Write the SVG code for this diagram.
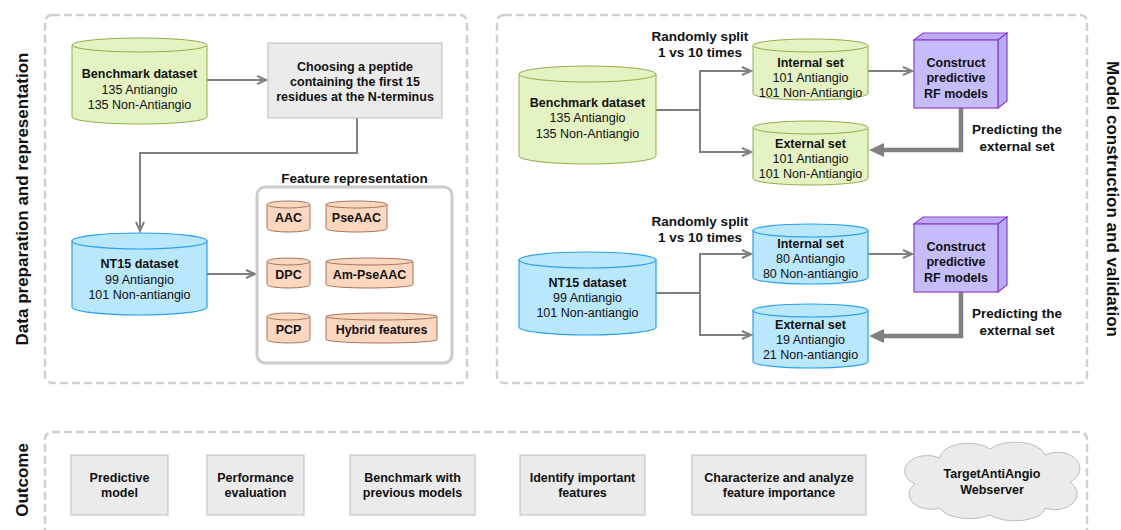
<svg xmlns="http://www.w3.org/2000/svg" width="1121" height="530" viewBox="0 0 1121 530">
<style>
text{font-family:"Liberation Sans",Arial,sans-serif;font-size:12.5px;fill:#111;text-anchor:middle}
.b{font-weight:bold}
.lbl{font-weight:bold;font-size:13.5px}
.sec{font-weight:bold;font-size:17px}
.dash{fill:none;stroke:#d0d0d0;stroke-width:2.5;stroke-dasharray:8 4}
.grn{fill:#e4f3c2;stroke:#92ad4a;stroke-width:1}
.blu{fill:#b9e7fb;stroke:#2c9ff0;stroke-width:1.2}
.pch{fill:#fcd7c0;stroke:#a8735a;stroke-width:1}
.gbox{fill:#ebebeb;stroke:#bdbdbd;stroke-width:1}
.cube{fill:#c5bcfb;stroke:#8e3fd0;stroke-width:1.2}
.cubed{fill:#b8acf5;stroke:#8e3fd0;stroke-width:1.2}
.con{fill:none;stroke:#808080;stroke-width:2}
.thick{fill:none;stroke:#808080;stroke-width:4.5}
</style>
<defs>
<marker id="arr" markerUnits="userSpaceOnUse" markerWidth="12" markerHeight="12" refX="10" refY="5" orient="auto">
<path d="M1,1 L10,5 L1,9" fill="none" stroke="#808080" stroke-width="2"/>
</marker>
<marker id="tarr" markerUnits="userSpaceOnUse" markerWidth="16" markerHeight="16" refX="0" refY="7" orient="auto">
<path d="M0,0 L15,7 L0,14 Z" fill="#808080"/>
</marker>
</defs>

<!-- section frames -->
<rect class="dash" x="45" y="15" width="422" height="368" rx="7"/>
<rect class="dash" x="497" y="15" width="590" height="368" rx="7"/>
<rect class="dash" x="45" y="432" width="1042" height="110" rx="7"/>
<text class="sec" transform="translate(28,199) rotate(-90)">Data preparation and representation</text>
<text class="sec" transform="translate(1107,199) rotate(90)">Model construction and validation</text>
<text class="sec" transform="translate(28,480) rotate(-90)">Outcome</text>

<!-- connectors -->
<g id="connectors">
<path class="con" d="M207,80 H266" marker-end="url(#arr)"/>
<path class="con" d="M357,118 V153 H140 V231" marker-end="url(#arr)"/>
<path class="con" d="M207,274 H255" marker-end="url(#arr)"/>
<path class="con" d="M656,110 H700 V71 H751" marker-end="url(#arr)"/>
<path class="con" d="M700,110 V152 H751" marker-end="url(#arr)"/>
<path class="con" d="M868,71 H912" marker-end="url(#arr)"/>
<path class="thick" d="M961,108 V150 H884" marker-end="url(#tarr)"/>
<path class="con" d="M656,293 H700 V254 H751" marker-end="url(#arr)"/>
<path class="con" d="M700,293 V335 H751" marker-end="url(#arr)"/>
<path class="con" d="M868,254 H912" marker-end="url(#arr)"/>
<path class="thick" d="M961,292 V336 H884" marker-end="url(#tarr)"/>
</g>

<!-- left panel -->
<g id="benchmark-left">
<path class="grn" d="M72,45 V117 A67.5,7 0 0 0 207,117 V45 Z"/>
<ellipse class="grn" cx="139.5" cy="45" rx="67.5" ry="7"/>
<text class="b" x="139.5" y="77.5">Benchmark dataset</text>
<text x="139.5" y="93.5">135 Antiangio</text>
<text x="139.5" y="108.5">135 Non-Antiangio</text>
</g>
<g id="choosing">
<rect class="gbox" x="268" y="43" width="174" height="75"/>
<text class="b" x="355" y="70.5">Choosing a peptide</text>
<text class="b" x="355" y="85.5">containing the first 15</text>
<text class="b" x="355" y="100.5">residues at the N-terminus</text>
</g>
<g id="nt15-left">
<path class="blu" d="M72,241 V307 A67.5,8 0 0 0 207,307 V241 Z"/>
<ellipse class="blu" cx="139.5" cy="241" rx="67.5" ry="8"/>
<text class="b" x="139.5" y="267.5">NT15 dataset</text>
<text x="139.5" y="283.5">99 Antiangio</text>
<text x="139.5" y="298.5">101 Non-antiangio</text>
</g>
<g id="feature-representation">
<text class="lbl" x="354.5" y="182.8">Feature representation</text>
<rect x="257" y="187" width="195" height="176" rx="8" fill="#fff" stroke="#cccccc" stroke-width="3"/>
</g>
<g id="aac">
<path class="pch" d="M267,204.5 V228.5 A21.5,3.5 0 0 0 310,228.5 V204.5 Z"/>
<ellipse class="pch" cx="288.5" cy="204.5" rx="21.5" ry="3.5"/>
<text class="b" x="288.5" y="221.5">AAC</text>
</g>
<g id="pseaac">
<path class="pch" d="M326,204.5 V228.5 A30.5,3.5 0 0 0 387,228.5 V204.5 Z"/>
<ellipse class="pch" cx="356.5" cy="204.5" rx="30.5" ry="3.5"/>
<text class="b" x="356.5" y="221.5">PseAAC</text>
</g>
<g id="dpc">
<path class="pch" d="M267,261.5 V284.5 A21.5,3.5 0 0 0 310,284.5 V261.5 Z"/>
<ellipse class="pch" cx="288.5" cy="261.5" rx="21.5" ry="3.5"/>
<text class="b" x="288.5" y="279">DPC</text>
</g>
<g id="am-pseaac">
<path class="pch" d="M326,261.5 V284.5 A43.5,3.5 0 0 0 413,284.5 V261.5 Z"/>
<ellipse class="pch" cx="369.5" cy="261.5" rx="43.5" ry="3.5"/>
<text class="b" x="369.5" y="279">Am-PseAAC</text>
</g>
<g id="pcp">
<path class="pch" d="M267,316.5 V339.5 A21.5,3.5 0 0 0 310,339.5 V316.5 Z"/>
<ellipse class="pch" cx="288.5" cy="316.5" rx="21.5" ry="3.5"/>
<text class="b" x="288.5" y="333.5">PCP</text>
</g>
<g id="hybrid">
<path class="pch" d="M326,316.5 V339.5 A55.5,3.5 0 0 0 437,339.5 V316.5 Z"/>
<ellipse class="pch" cx="381.5" cy="316.5" rx="55.5" ry="3.5"/>
<text class="b" x="381.5" y="333.5">Hybrid features</text>
</g>

<!-- right panel, upper -->
<g id="split-label-1">
<text class="lbl" x="700" y="40.8">Randomly split</text>
<text class="lbl" x="700" y="56.8">1 vs 10 times</text>
</g>
<g id="benchmark-right">
<path class="grn" d="M519,74 V156 A68.5,8 0 0 0 656,156 V74 Z"/>
<ellipse class="grn" cx="587.5" cy="74" rx="68.5" ry="8"/>
<text class="b" x="587.5" y="106.5">Benchmark dataset</text>
<text x="587.5" y="121.5">135 Antiangio</text>
<text x="587.5" y="137.5">135 Non-Antiangio</text>
</g>
<g id="internal-1">
<path class="grn" d="M753,45.5 V93.5 A57.5,6.5 0 0 0 868,93.5 V45.5 Z"/>
<ellipse class="grn" cx="810.5" cy="45.5" rx="57.5" ry="6.5"/>
<text class="b" x="810.5" y="66.5">Internal set</text>
<text x="810.5" y="81.5">101 Antiangio</text>
<text x="810.5" y="96.5">101 Non-Antiangio</text>
</g>
<g id="external-1">
<path class="grn" d="M753,127.5 V178.5 A57.5,6.5 0 0 0 868,178.5 V127.5 Z"/>
<ellipse class="grn" cx="810.5" cy="127.5" rx="57.5" ry="6.5"/>
<text class="b" x="810.5" y="147.5">External set</text>
<text x="810.5" y="162.5">101 Antiangio</text>
<text x="810.5" y="178">101 Non-Antiangio</text>
</g>
<g id="rf-1">
<polygon class="cubed" points="914,40 923,33 1007,33 998,40"/>
<polygon class="cubed" points="998,40 1007,33 1007,101 998,108"/>
<rect class="cube" x="914" y="40" width="84" height="68"/>
<text class="b" x="956" y="66.5">Construct</text>
<text class="b" x="956" y="82">predictive</text>
<text class="b" x="956" y="97.5">RF models</text>
</g>
<g id="predict-label-1">
<text class="lbl" x="1017" y="133.8">Predicting the</text>
<text class="lbl" x="1017" y="150.8">external set</text>
</g>

<!-- right panel, lower -->
<g id="split-label-2">
<text class="lbl" x="700" y="225.8">Randomly split</text>
<text class="lbl" x="700" y="241.8">1 vs 10 times</text>
</g>
<g id="nt15-right">
<path class="blu" d="M519,260 V327 A68.5,8 0 0 0 656,327 V260 Z"/>
<ellipse class="blu" cx="587.5" cy="260" rx="68.5" ry="8"/>
<text class="b" x="587.5" y="286.5">NT15 dataset</text>
<text x="587.5" y="301.5">99 Antiangio</text>
<text x="587.5" y="316.5">101 Non-antiangio</text>
</g>
<g id="internal-2">
<path class="blu" d="M753,230.5 V277.5 A57.5,6.5 0 0 0 868,277.5 V230.5 Z"/>
<ellipse class="blu" cx="810.5" cy="230.5" rx="57.5" ry="6.5"/>
<text class="b" x="810.5" y="247.5">Internal set</text>
<text x="810.5" y="262.5">80 Antiangio</text>
<text x="810.5" y="277.5">80 Non-antiangio</text>
</g>
<g id="external-2">
<path class="blu" d="M753,310.5 V361.5 A57.5,6.5 0 0 0 868,361.5 V310.5 Z"/>
<ellipse class="blu" cx="810.5" cy="310.5" rx="57.5" ry="6.5"/>
<text class="b" x="810.5" y="328.5">External set</text>
<text x="810.5" y="343.5">19 Antiangio</text>
<text x="810.5" y="358.5">21 Non-antiangio</text>
</g>
<g id="rf-2">
<polygon class="cubed" points="914,224 923,217 1007,217 998,224"/>
<polygon class="cubed" points="998,224 1007,217 1007,285 998,292"/>
<rect class="cube" x="914" y="224" width="84" height="68"/>
<text class="b" x="956" y="250.5">Construct</text>
<text class="b" x="956" y="266">predictive</text>
<text class="b" x="956" y="281.5">RF models</text>
</g>
<g id="predict-label-2">
<text class="lbl" x="1017" y="317.8">Predicting the</text>
<text class="lbl" x="1017" y="334.8">external set</text>
</g>

<!-- outcome -->
<g id="out-predictive">
<rect class="gbox" x="71" y="455" width="97" height="60"/>
<text class="b" x="119.5" y="481.5">Predictive</text>
<text class="b" x="119.5" y="496.5">model</text>
</g>
<g id="out-performance">
<rect class="gbox" x="207" y="455" width="97" height="60"/>
<text class="b" x="255.5" y="481.5">Performance</text>
<text class="b" x="255.5" y="496.5">evaluation</text>
</g>
<g id="out-benchmark">
<rect class="gbox" x="350" y="455" width="125" height="60"/>
<text class="b" x="412.5" y="481.5">Benchmark with</text>
<text class="b" x="412.5" y="496.5">previous models</text>
</g>
<g id="out-identify">
<rect class="gbox" x="520" y="455" width="125" height="60"/>
<text class="b" x="582.5" y="481.5">Identify important</text>
<text class="b" x="582.5" y="496.5">features</text>
</g>
<g id="out-characterize">
<rect class="gbox" x="692" y="455" width="174" height="60"/>
<text class="b" x="779" y="481.5">Characterize and analyze</text>
<text class="b" x="779" y="496.5">feature importance</text>
</g>
<g id="out-webserver">
<path class="gbox" d="M940,458 A28,15 0 0 1 990,449 A30,15 0 0 1 1045,455 A22,16 0 0 1 1070,482 A22,16 0 0 1 1045,508 A30,13 0 0 1 990,515 A30,13 0 0 1 940,508 A22,15 0 0 1 915,484 A22,15 0 0 1 940,458 Z"/>
<text class="b" x="992" y="477.5">TargetAntiAngio</text>
<text class="b" x="992" y="493.5">Webserver</text>
</g>
</svg>
